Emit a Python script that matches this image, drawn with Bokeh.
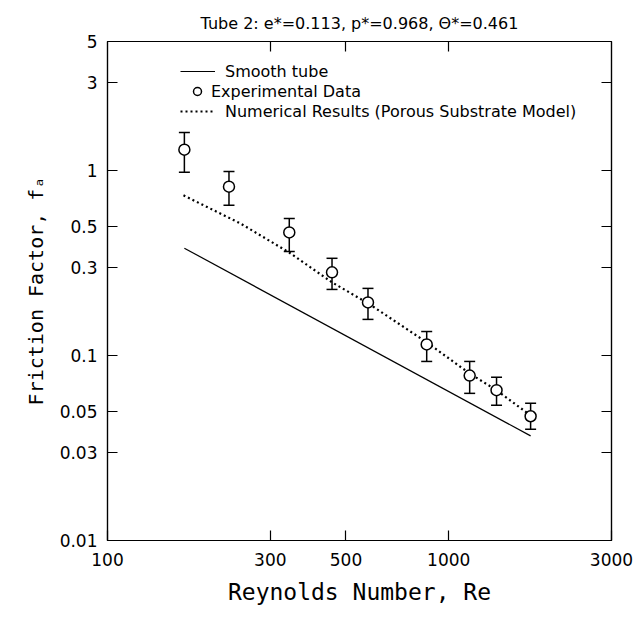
from bokeh.plotting import figure
from bokeh.models import (FixedTicker, LogAxis, Whisker, TeeHead, ColumnDataSource,
                          Legend, LegendItem, Title)
from bokeh.embed import file_html
from bokeh.resources import INLINE

# ---- data ----
re_exp = [168, 227, 341, 455, 580, 862, 1152, 1381, 1738]
f_exp = [1.30, 0.82, 0.464, 0.282, 0.194, 0.115, 0.078, 0.065, 0.047]
f_upper = [1.61, 0.99, 0.552, 0.336, 0.231, 0.135, 0.093, 0.0764, 0.0552]
f_lower = [0.98, 0.65, 0.366, 0.228, 0.157, 0.093, 0.0625, 0.0539, 0.040]

re_smooth = [168, 1738]
f_smooth = [0.381, 0.0368]

re_num = [167, 245, 341, 455, 580, 862, 1152, 1381, 1783]
f_num = [0.736, 0.519, 0.361, 0.249, 0.192, 0.118, 0.080, 0.065, 0.0458]

x_ticks = [100, 300, 500, 1000, 3000]
y_ticks = [0.01, 0.03, 0.05, 0.1, 0.3, 0.5, 1, 3, 5]

title_text = "Tube 2: e*=0.113, p*=0.968, \u0398*=0.461"
x_label = "Reynolds Number, Re"
y_label = "Friction Factor, f\u2090"

FONT = "DejaVu Sans"
LABEL_FONT = "DejaVu Sans Mono"

p = figure(x_axis_type="log", y_axis_type="log",
           x_range=(100, 3000), y_range=(0.01, 5),
           frame_width=504, frame_height=499,
           min_border_left=107, min_border_right=25,
           min_border_top=41, min_border_bottom=77,
           output_backend="svg", toolbar_location=None,
           background_fill_color="white", border_fill_color="white")

p.xgrid.visible = False
p.ygrid.visible = False
p.outline_line_color = "black"
p.outline_line_width = 1.2

def style_axis(ax, ticks, show_labels=True):
    ax.ticker = FixedTicker(ticks=ticks, minor_ticks=[])
    ax.major_tick_in = 10
    ax.major_tick_out = 0
    ax.minor_tick_in = 0
    ax.minor_tick_out = 0
    ax.axis_line_color = "black"
    ax.axis_line_width = 1.2
    ax.major_tick_line_color = "black"
    ax.major_tick_line_width = 1.2
    ax.major_label_text_font = FONT
    ax.major_label_text_font_size = "17px"
    ax.major_label_text_color = "black"
    ax.axis_label_text_font = LABEL_FONT
    ax.axis_label_text_font_style = "normal"
    ax.axis_label_text_color = "black"
    if not show_labels:
        ax.major_label_text_font_size = "0px"
        ax.major_label_text_color = None
        ax.major_label_standoff = 0
        ax.axis_label_standoff = 0

style_axis(p.xaxis[0], x_ticks)
style_axis(p.yaxis[0], y_ticks)
p.xaxis[0].major_label_overrides = {100: "100", 300: "300", 500: "500", 1000: "1000", 3000: "3000"}
p.yaxis[0].major_label_overrides = {0.01: "0.01", 0.03: "0.03", 0.05: "0.05", 0.1: "0.1",
                                    0.3: "0.3", 0.5: "0.5", 1: "1", 3: "3", 5: "5"}
p.xaxis[0].major_label_standoff = 12
p.yaxis[0].major_label_standoff = 10
p.xaxis[0].axis_label = x_label
p.yaxis[0].axis_label = y_label
p.xaxis[0].axis_label_text_font_size = "23px"
p.yaxis[0].axis_label_text_font_size = "20px"
p.xaxis[0].axis_label_standoff = 10
p.yaxis[0].axis_label_standoff = 9

top_ax = LogAxis()
style_axis(top_ax, x_ticks[1:4], show_labels=False)
p.add_layout(top_ax, "above")
right_ax = LogAxis()
style_axis(right_ax, y_ticks[1:-1], show_labels=False)
p.add_layout(right_ax, "right")

p.add_layout(Title(text=title_text, align="center", text_font=FONT,
                   text_font_size="16px", text_font_style="normal",
                   text_color="black", standoff=18), "above")

# smooth tube
r_smooth = p.line(re_smooth, f_smooth, line_color="black", line_width=1.2)
# numerical results
r_num = p.line(re_num, f_num, line_color="black", line_width=2.2, line_dash="2 3")

# error bars
src = ColumnDataSource(dict(x=re_exp, y=f_exp, upper=f_upper, lower=f_lower))
wh = Whisker(base="x", upper="upper", lower="lower", source=src,
             line_color="black", line_width=1.5,
             upper_head=TeeHead(size=11, line_color="black", line_width=1.5),
             lower_head=TeeHead(size=11, line_color="black", line_width=1.5))
p.add_layout(wh)
r_exp = p.scatter("x", "y", source=src, marker="circle", size=11,
                  fill_color="white", line_color="black", line_width=1.5)

def style_legend(lg, glyph_w, spacing):
    lg.glyph_width = glyph_w
    lg.glyph_height = 20
    lg.label_height = 20
    lg.spacing = spacing
    lg.padding = 0
    lg.margin = 0
    lg.border_line_color = None
    lg.background_fill_alpha = 0
    lg.label_text_font = FONT
    lg.label_text_font_size = "16px"
    lg.label_text_color = "black"

legend_lines = Legend(items=[
    LegendItem(label="Smooth tube", renderers=[r_smooth]),
    LegendItem(label="Numerical Results (Porous Substrate Model)", renderers=[r_num]),
], location=(73, 419))
style_legend(legend_lines, 35, 20)
legend_lines.label_standoff = 10
p.add_layout(legend_lines, "center")

legend_pts = Legend(items=[
    LegendItem(label="Experimental Data", renderers=[r_exp]),
], location=(80, 439))
style_legend(legend_pts, 20, 0)
legend_pts.label_standoff = 4
p.add_layout(legend_pts, "center")

open("out.html", "w").write(file_html(p, INLINE))
